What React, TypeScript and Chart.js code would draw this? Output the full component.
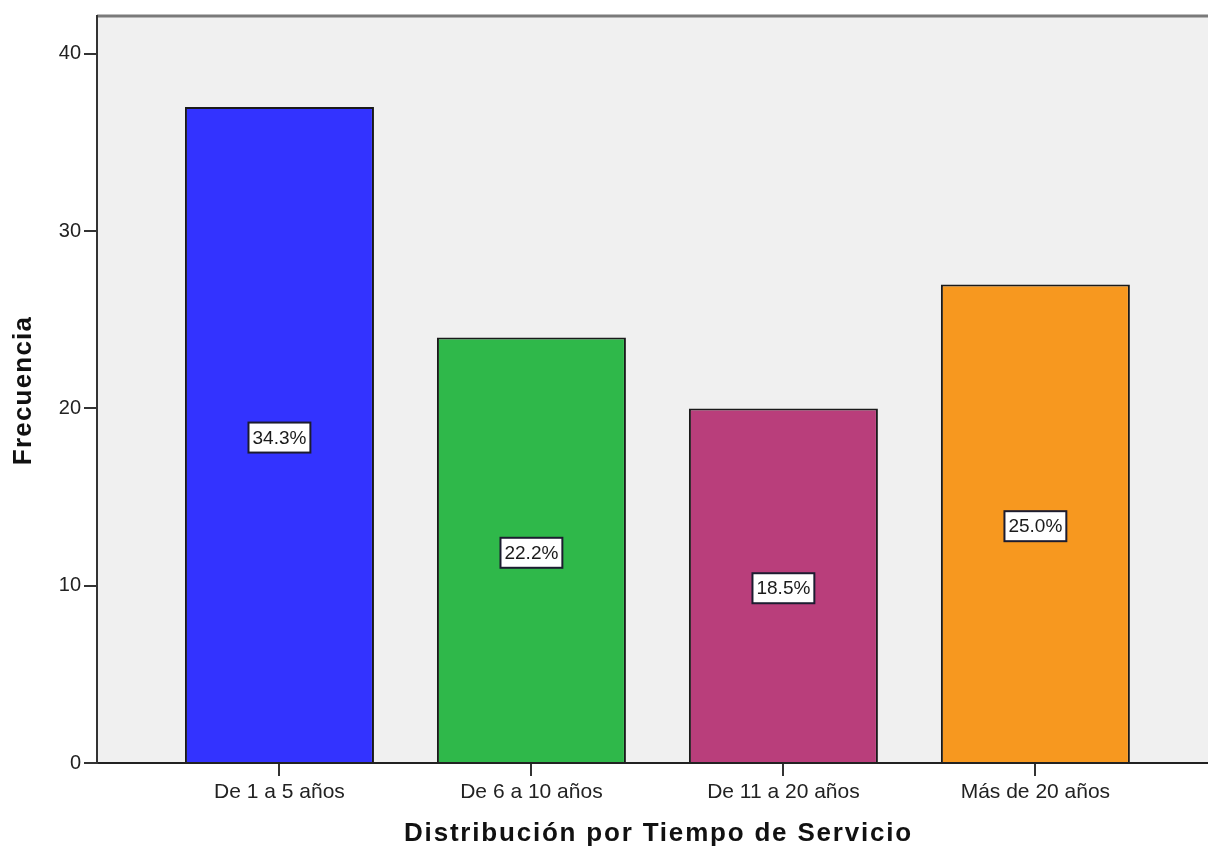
import React, { useEffect, useRef } from "react";
import { Chart, registerables } from "chart.js";

Chart.register(...registerables);

const categories = ["De 1 a 5 años", "De 6 a 10 años", "De 11 a 20 años", "Más de 20 años"];
const frequencies = [37, 24, 20, 27];
const percentages = [34.3, 22.2, 18.5, 25.0];
const yTicks = [0, 10, 20, 30, 40];
const barColors = ["#3333FF", "#2FB84A", "#B93E7B", "#F7981F"];
const xTitle = "Distribución por Tiempo de Servicio";
const yTitle = "Frecuencia";

const FONT = '"Liberation Sans", Arial, sans-serif';

const decorPlugin = {
  id: "decor",
  beforeDraw(chart: any) {
    const { ctx, chartArea: a } = chart;
    ctx.save();
    ctx.fillStyle = "#F0F0F0";
    ctx.fillRect(a.left, a.top, a.right - a.left, a.bottom - a.top);
    ctx.strokeStyle = "#7a7a7a";
    ctx.lineWidth = 3;
    ctx.beginPath();
    ctx.moveTo(a.left, a.top);
    ctx.lineTo(a.right, a.top);
    ctx.stroke();
    ctx.restore();
  },
  afterDatasetsDraw(chart: any) {
    const { ctx } = chart;
    const meta = chart.getDatasetMeta(0);
    ctx.save();
    ctx.font = `19px ${FONT}`;
    ctx.textAlign = "center";
    ctx.textBaseline = "middle";
    meta.data.forEach((el: any, i: number) => {
      const label = percentages[i].toFixed(1) + "%";
      const cx = el.x;
      const cy = (el.y + el.base) / 2 + 3;
      const w = ctx.measureText(label).width + 8;
      const h = 30;
      ctx.fillStyle = "#FFFFFF";
      ctx.fillRect(cx - w / 2, cy - h / 2, w, h);
      ctx.strokeStyle = "#1c1c30";
      ctx.lineWidth = 2;
      ctx.strokeRect(cx - w / 2, cy - h / 2, w, h);
      ctx.fillStyle = "#1a1a1a";
      ctx.fillText(label, cx, cy + 1);
    });
    ctx.restore();
  },
  afterDraw(chart: any) {
    const { ctx, chartArea: a } = chart;
    ctx.save();
    ctx.fillStyle = "#111";
    ctx.font = `bold 26px ${FONT}`;
    (ctx as any).letterSpacing = "1.8px";
    ctx.textAlign = "center";
    ctx.textBaseline = "alphabetic";
    ctx.fillText(xTitle, (a.left + a.right) / 2 + 6, 841);
    (ctx as any).letterSpacing = "1.2px";
    ctx.translate(31, (a.top + a.bottom) / 2 + 1);
    ctx.rotate(-Math.PI / 2);
    ctx.fillText(yTitle, 0, 0);
    ctx.restore();
  },
};

export default function App() {
  const ref = useRef<HTMLCanvasElement | null>(null);

  useEffect(() => {
    if (!ref.current) return;
    const chart = new Chart(ref.current, {
      type: "bar",
      data: {
        datasets: [
          {
            data: frequencies.map((v, i) => ({ x: i, y: v })),
            backgroundColor: barColors,
            borderColor: "#1a1a1a",
            borderWidth: 2,
            categoryPercentage: 1,
            barPercentage: 0.75,
          },
        ],
      },
      options: {
        animation: false,
        responsive: false,
        devicePixelRatio: 1,
        layout: { padding: { top: 16, left: 0, right: 0, bottom: 0 } },
        plugins: {
          legend: { display: false },
          tooltip: { enabled: false },
        },
        scales: {
          x: {
            type: "linear",
            offset: false,
            min: -0.724,
            max: 3.685,
            afterBuildTicks: (scale: any) => {
              scale.ticks = categories.map((_, i) => ({ value: i }));
            },
            afterFit: (scale: any) => {
              scale.height = 85;
            },
            grid: {
              offset: false,
              drawOnChartArea: false,
              drawTicks: true,
              tickLength: 13,
              color: "#333",
              lineWidth: 2,
            },
            border: { display: true, color: "#222", width: 2 },
            ticks: {
              autoSkip: false,
              maxRotation: 0,
              padding: 4,
              color: "#222",
              font: { family: FONT, size: 21 },
              callback: (v: any) => categories[v as number] ?? "",
            },
          },
          y: {
            type: "linear",
            min: 0,
            max: 42.14,
            afterBuildTicks: (scale: any) => {
              scale.ticks = yTicks.map((v) => ({ value: v }));
            },
            afterFit: (scale: any) => {
              scale.width = 97;
            },
            grid: {
              drawOnChartArea: false,
              drawTicks: true,
              tickLength: 13,
              color: "#333",
              lineWidth: 2,
            },
            border: { display: true, color: "#333", width: 2 },
            ticks: {
              padding: 3,
              color: "#222",
              font: { family: FONT, size: 20 },
            },
          },
        },
      },
      plugins: [decorPlugin],
    } as any);
    return () => chart.destroy();
  }, []);

  return (
    <div style={{ position: "absolute", left: 0, top: 0, width: 1208, height: 848, background: "#fff" }}>
      <canvas ref={ref} width={1208} height={848} style={{ display: "block" }} />
    </div>
  );
}
